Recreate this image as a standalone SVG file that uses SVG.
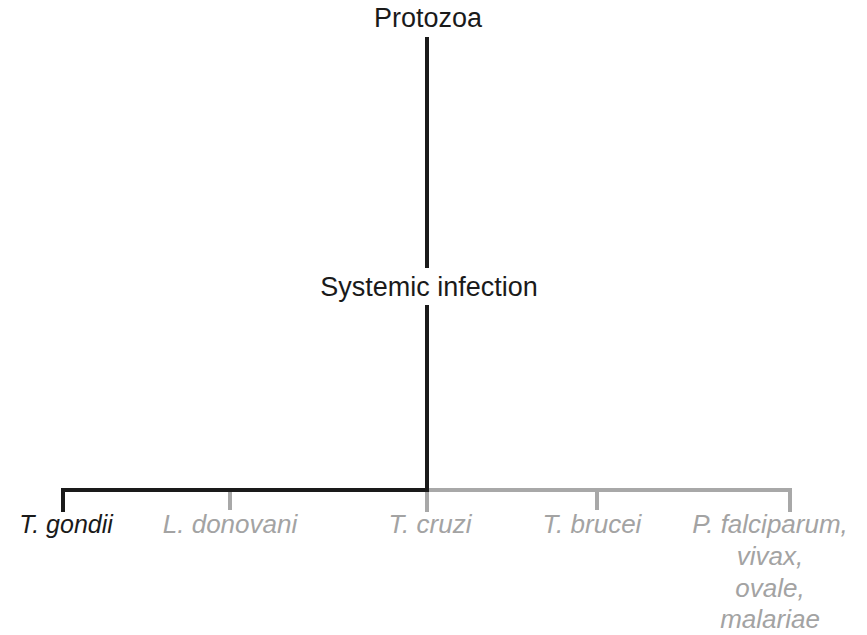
<svg xmlns="http://www.w3.org/2000/svg" width="867" height="635" viewBox="0 0 867 635">
  <style>
    .lbl { font-family: "Liberation Sans", Arial, sans-serif; font-size: 26px; text-anchor: middle; }
    .head { fill: #1a1a1a; font-size: 27px; }
    .sp { font-style: italic; }
    .dark { fill: #1a1a1a; font-size: 25px; }
    .grey { fill: #a3a3a3; }
    .ln-dark { stroke: #1a1a1a; stroke-width: 4; fill: none; }
    .ln-grey { stroke: #a8a8a8; stroke-width: 4; fill: none; }
  </style>
  <rect width="867" height="635" fill="#ffffff"/>

  <g id="connectors">
    <line class="ln-dark" x1="427" y1="37" x2="427" y2="268"/>
    <line class="ln-dark" x1="427" y1="305" x2="427" y2="490"/>
    <polyline class="ln-grey" points="427,512 427,490 790,490 790,512"/>
    <line class="ln-grey" x1="230" y1="490" x2="230" y2="510"/>
    <line class="ln-grey" x1="597" y1="490" x2="597" y2="510"/>
    <polyline class="ln-dark" points="63,512 63,490 429,490"/>
  </g>

  <g id="protozoa"><text class="lbl head" x="428" y="27">Protozoa</text></g>
  <g id="systemic"><text class="lbl head" x="429" y="296">Systemic infection</text></g>
  <g id="t-gondii"><text class="lbl sp dark" x="66" y="533">T. gondii</text></g>
  <g id="l-donovani"><text class="lbl sp grey" x="230" y="533">L. donovani</text></g>
  <g id="t-cruzi"><text class="lbl sp grey" x="430" y="533">T. cruzi</text></g>
  <g id="t-brucei"><text class="lbl sp grey" x="592" y="533">T. brucei</text></g>
  <g id="plasmodium">
    <text class="lbl sp grey" x="770" y="533">P. falciparum,</text>
    <text class="lbl sp grey" x="770" y="565">vivax,</text>
    <text class="lbl sp grey" x="770" y="597">ovale,</text>
    <text class="lbl sp grey" x="770" y="628">malariae</text>
  </g>
</svg>
